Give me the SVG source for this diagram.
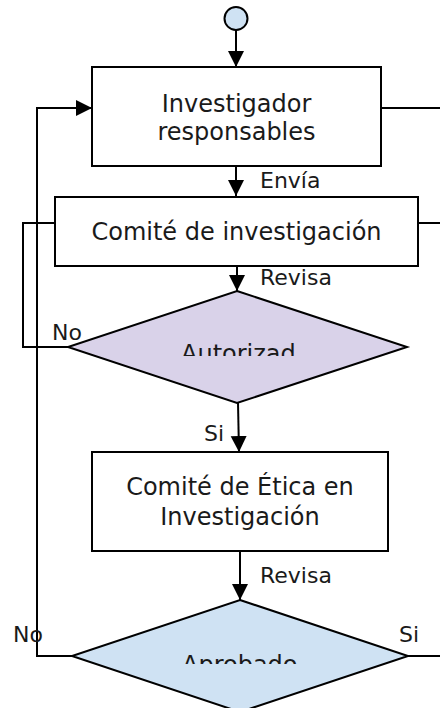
<svg xmlns="http://www.w3.org/2000/svg" width="440" height="708" viewBox="0 0 440 708">
<style>
.box{fill:#fff;stroke:#000;stroke-width:2}
.ln{fill:none;stroke:#000;stroke-width:2}
.t{font-family:"DejaVu Sans",sans-serif;font-size:24px;fill:#1a1a1a;text-anchor:middle}
.lb{font-family:"DejaVu Sans",sans-serif;font-size:22px;fill:#1a1a1a}
</style>
<defs>
<marker id="ah" markerUnits="userSpaceOnUse" markerWidth="17" markerHeight="17" refX="16" refY="8" orient="auto">
<path d="M0,0 L16,8 L0,16 Z" fill="#000"/>
</marker>
<clipPath id="c1"><rect x="176" y="330" width="120" height="26"/></clipPath>
<clipPath id="c2"><rect x="178" y="640" width="122" height="24"/></clipPath>
</defs>
<g id="connectors">
<line class="ln" x1="236" y1="30" x2="236" y2="67" marker-end="url(#ah)"/>
<line class="ln" x1="236" y1="150" x2="236" y2="196" marker-end="url(#ah)"/>
<line class="ln" x1="237" y1="252" x2="237" y2="291" marker-end="url(#ah)"/>
<line class="ln" x1="238" y1="403" x2="239" y2="452" marker-end="url(#ah)"/>
<line class="ln" x1="240" y1="536" x2="240" y2="600" marker-end="url(#ah)"/>
<line class="ln" x1="381" y1="108" x2="440" y2="108"/>
<line class="ln" x1="418" y1="223" x2="440" y2="223"/>
<polyline class="ln" points="55,223 23,223 23,347 68,347"/>
<polyline class="ln" points="72,656 37,656 37,108 92,108" marker-end="url(#ah)"/>
<line class="ln" x1="408" y1="656" x2="440" y2="656"/>
<text class="lb" x="260" y="188">Envía</text>
<text class="lb" x="260" y="285">Revisa</text>
<text class="lb" x="52" y="340">No</text>
<text class="lb" x="204" y="441">Si</text>
<text class="lb" x="260" y="583">Revisa</text>
<text class="lb" x="13" y="642">No</text>
<text class="lb" x="399" y="642">Si</text>
</g>
<g id="start">
<circle cx="236" cy="18.5" r="11.5" fill="#cfe2f3" stroke="#000" stroke-width="2"/>
</g>
<g id="investigador">
<rect class="box" x="92" y="67" width="289" height="99"/>
<text class="t" x="236.5" y="112">Investigador</text>
<text class="t" x="236.5" y="140">responsables</text>
</g>
<g id="comite-investigacion">
<rect class="box" x="55" y="197" width="363" height="69"/>
<text class="t" x="236.5" y="240">Comité de investigación</text>
</g>
<g id="autorizado">
<polygon points="237,291 407,347 237,403 68,347" fill="#d9d2e9" stroke="#000" stroke-width="2"/>
<text class="t" x="181" y="362" style="text-anchor:start" clip-path="url(#c1)">Autorizad</text>
</g>
<g id="comite-etica">
<rect class="box" x="92" y="452" width="296" height="99"/>
<text class="t" x="240" y="495">Comité de Ética en</text>
<text class="t" x="240" y="525">Investigación</text>
</g>
<g id="aprobado">
<polygon points="240,600 408,656 240,712 72,656" fill="#cfe2f3" stroke="#000" stroke-width="2"/>
<text class="t" x="182" y="673" style="text-anchor:start" clip-path="url(#c2)">Aprobado</text>
</g>
</svg>
